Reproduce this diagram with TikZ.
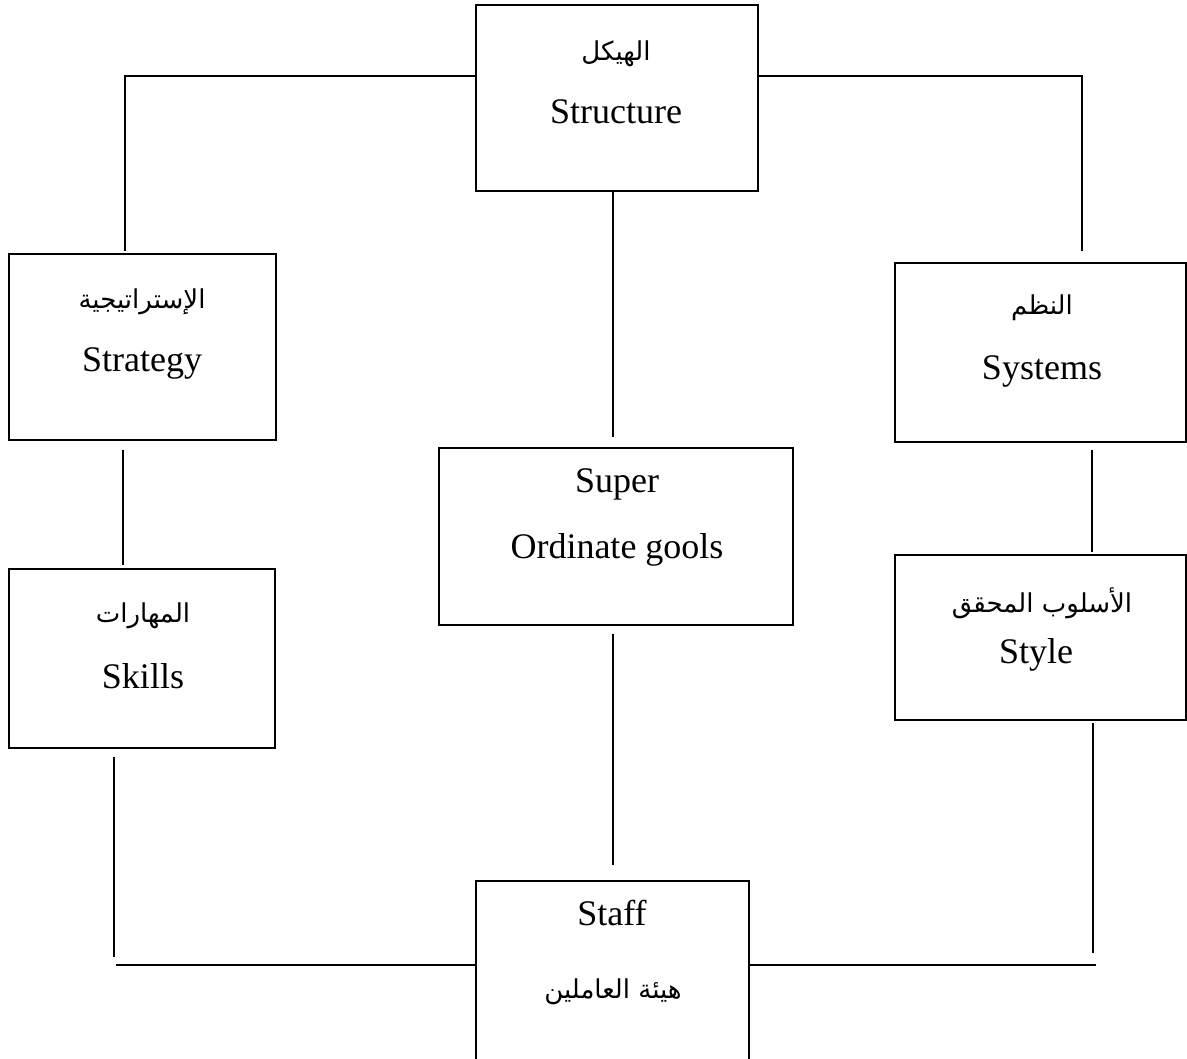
\documentclass[tikz,border=0pt]{standalone}
\usepackage{fontspec}
\setmainfont{Liberation Serif}
\newfontfamily\arabicfont[Script=Arabic]{DejaVu Sans}
\TeXXeTstate=1
\begin{document}
\begin{tikzpicture}[x=1pt,y=-1pt,
  box/.style={draw, line width=1.5pt, rectangle, inner sep=0pt},
  link/.style={line width=1.4pt},
  en/.style={font=\fontsize{36}{40}\selectfont, anchor=base, inner sep=0pt},
  ar/.style={font=\arabicfont\fontsize{26}{30}\selectfont, anchor=base, inner sep=0pt}]
\useasboundingbox (0,0) rectangle (1187,1059);
\clip (0,0) rectangle (1187,1059);

% boxes
\node[box, minimum width=282pt, minimum height=186pt] (structure) at (617,98) {};
\node[box, minimum width=267pt, minimum height=186pt] (strategy) at (142.5,347) {};
\node[box, minimum width=291pt, minimum height=179pt] (systems) at (1040.5,352.5) {};
\node[box, minimum width=354pt, minimum height=177pt] (goals) at (616,536.5) {};
\node[box, minimum width=266pt, minimum height=179pt] (skills) at (142,658.5) {};
\node[box, minimum width=291pt, minimum height=165pt] (style) at (1040.5,637.5) {};
\node[box, minimum width=273pt, minimum height=189pt] (staff) at (612.5,975.5) {};

% labels
\node[ar] (structureAr) at (616,61) {\beginR الهيكل\endR};
\node[en] (structureEn) at (616,124) {Structure};
\node[ar] (strategyAr) at (142,309) {\beginR الإستراتيجية\endR};
\node[en] (strategyEn) at (142,372) {Strategy};
\node[ar] (systemsAr) at (1042,315) {\beginR النظم\endR};
\node[en] (systemsEn) at (1042,380) {Systems};
\node[en] (goalsA) at (617,493) {Super};
\node[en] (goalsB) at (617,558) {Ordinate gools};
\node[ar] (skillsAr) at (143,622) {\beginR المهارات\endR};
\node[en] (skillsEn) at (143,688) {Skills};
\node[ar] (styleAr) at (1042,612) {\beginR الأسلوب المحقق\endR};
\node[en] (styleEn) at (1036,663) {Style};
\node[en] (staffEn) at (612,925) {Staff};
\node[ar] (staffAr) at (613,998) {\beginR هيئة العاملين\endR};

% free ends of the connectors
\coordinate (leftDrop) at (125,251);
\coordinate (rightDrop) at (1082,251);
\coordinate (midTop) at (613,437);
\coordinate (stratLow) at (123,450);
\coordinate (skillsHigh) at (123,565);
\coordinate (sysLow) at (1092,450);
\coordinate (styleHigh) at (1092,552);
\coordinate (goalsLow) at (613,634);
\coordinate (staffHigh) at (613,865);
\coordinate (skillsLow) at (114,757);
\coordinate (skillsFoot) at (114,957);
\coordinate (leftRail) at (116,965);
\coordinate (styleLow) at (1093,723);
\coordinate (styleFoot) at (1093,953);
\coordinate (rightRail) at (1096,965);

% connectors
\draw[link] ([yshift=22pt]structure.west) -| (leftDrop);
\draw[link] ([yshift=22pt]structure.east) -| (rightDrop);
\draw[link] ([xshift=-4pt]structure.south) -- (midTop);
\draw[link] (stratLow) -- (skillsHigh);
\draw[link] (sysLow) -- (styleHigh);
\draw[link] (goalsLow) -- (staffHigh);
\draw[link] (skillsLow) -- (skillsFoot);
\draw[link] (leftRail) -- ([yshift=10.5pt]staff.west);
\draw[link] (styleLow) -- (styleFoot);
\draw[link] ([yshift=10.5pt]staff.east) -- (rightRail);
\end{tikzpicture}
\end{document}
